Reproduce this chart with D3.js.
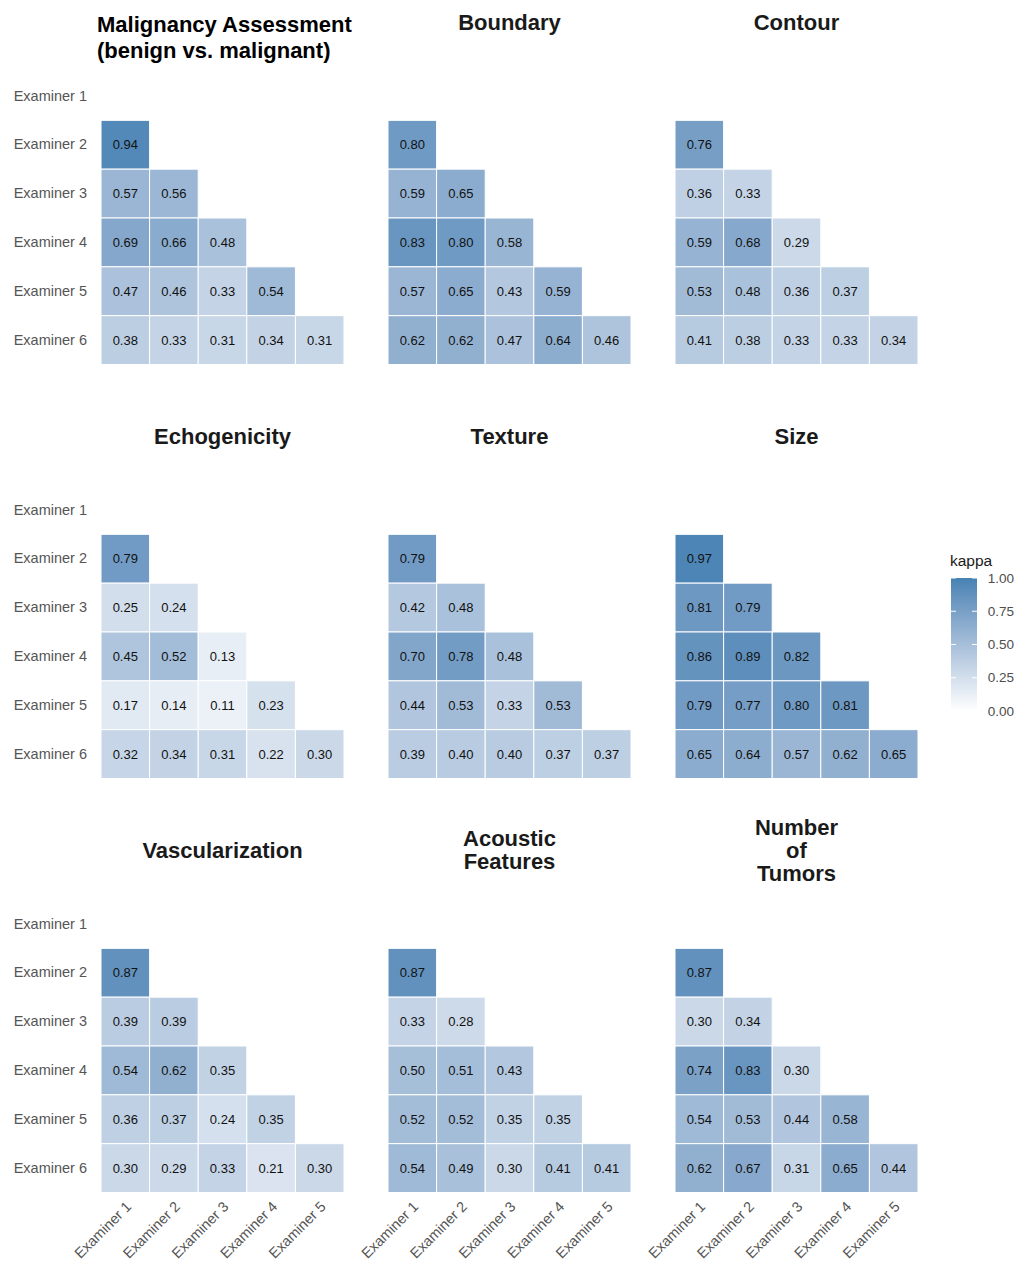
<!DOCTYPE html>
<html>
<head>
<meta charset="utf-8">
<script src="https://cdn.jsdelivr.net/npm/d3@7"></script>
<style>
  html, body { margin: 0; padding: 0; background: #fff; }
  svg { display: block; font-family: "Liberation Sans", Arial, Helvetica, sans-serif; }
</style>
</head>
<body>
<svg id="chart" width="1017" height="1266"></svg>
<script>
// Pairwise Cohen's kappa between examiners, one lower-triangle matrix per feature.
const examiners = ["Examiner 1", "Examiner 2", "Examiner 3", "Examiner 4", "Examiner 5", "Examiner 6"];
const colExaminers = examiners.slice(0, 5);

const titles = [
  ["Malignancy Assessment", "(benign vs. malignant)"],
  ["Boundary"],
  ["Contour"],
  ["Echogenicity"],
  ["Texture"],
  ["Size"],
  ["Vascularization"],
  ["Acoustic", "Features"],
  ["Number", "of", "Tumors"]
];

// rows: Examiner 2..6; entries: against Examiner 1..(row-1)
const malignancy = [[0.94], [0.57, 0.56], [0.69, 0.66, 0.48], [0.47, 0.46, 0.33, 0.54], [0.38, 0.33, 0.31, 0.34, 0.31]];
const boundary   = [[0.80], [0.59, 0.65], [0.83, 0.80, 0.58], [0.57, 0.65, 0.43, 0.59], [0.62, 0.62, 0.47, 0.64, 0.46]];
const contour    = [[0.76], [0.36, 0.33], [0.59, 0.68, 0.29], [0.53, 0.48, 0.36, 0.37], [0.41, 0.38, 0.33, 0.33, 0.34]];
const echogenicity = [[0.79], [0.25, 0.24], [0.45, 0.52, 0.13], [0.17, 0.14, 0.11, 0.23], [0.32, 0.34, 0.31, 0.22, 0.30]];
const texture    = [[0.79], [0.42, 0.48], [0.70, 0.78, 0.48], [0.44, 0.53, 0.33, 0.53], [0.39, 0.40, 0.40, 0.37, 0.37]];
const size       = [[0.97], [0.81, 0.79], [0.86, 0.89, 0.82], [0.79, 0.77, 0.80, 0.81], [0.65, 0.64, 0.57, 0.62, 0.65]];
const vascularization = [[0.87], [0.39, 0.39], [0.54, 0.62, 0.35], [0.36, 0.37, 0.24, 0.35], [0.30, 0.29, 0.33, 0.21, 0.30]];
const acoustic   = [[0.87], [0.33, 0.28], [0.50, 0.51, 0.43], [0.52, 0.52, 0.35, 0.35], [0.54, 0.49, 0.30, 0.41, 0.41]];
const tumors     = [[0.87], [0.30, 0.34], [0.74, 0.83, 0.30], [0.54, 0.53, 0.44, 0.58], [0.62, 0.67, 0.31, 0.65, 0.44]];

const matrices = [malignancy, boundary, contour, echogenicity, texture, size, vascularization, acoustic, tumors];
const legendTicks = [0, 0.25, 0.5, 0.75, 1];

const svg = d3.select("#chart");
const color = d3.scaleSequential(d3.interpolateLab("#ffffff", "steelblue")).domain([0, 1]);

const colLeft = [101, 388, 675];
const rowTop = [71.5, 485.5, 899.5];
const panelW = 243, panelH = 293;
const axisFont = 14.5;

// title line centres per panel
const titleLayout = [
  { x: 97, anchor: "start", ys: [24, 50], fill: "#000" },
  { ys: [22] }, { ys: [22] },
  { ys: [436] }, { ys: [436] }, { ys: [436] },
  { ys: [850] }, { ys: [838, 861] }, { ys: [827, 850, 873] }
];

matrices.forEach((m, i) => {
  const r = Math.floor(i / 3), c = i % 3;
  const x0 = colLeft[c], y0 = rowTop[r];
  const x = d3.scaleBand().domain(colExaminers).range([x0, x0 + panelW]);
  const y = d3.scaleBand().domain(examiners).range([y0, y0 + panelH]);

  const cells = [];
  m.forEach((row, ri) => row.forEach((v, ci) => cells.push({ row: examiners[ri + 1], col: examiners[ci], v })));

  const g = svg.append("g");
  g.selectAll("rect").data(cells).join("rect")
    .attr("x", d => x(d.col)).attr("y", d => y(d.row))
    .attr("width", x.bandwidth()).attr("height", y.bandwidth())
    .attr("fill", d => color(d.v))
    .attr("stroke", "#fff").attr("stroke-width", 1);
  g.selectAll("text.val").data(cells).join("text").attr("class", "val")
    .attr("x", d => x(d.col) + x.bandwidth() / 2)
    .attr("y", d => y(d.row) + y.bandwidth() / 2)
    .attr("text-anchor", "middle").attr("dy", "0.35em")
    .attr("font-size", 13).attr("fill", "#111")
    .text(d => d.v.toFixed(2));

  // y axis labels on the left column
  if (c === 0) {
    const ya = svg.append("g").attr("transform", `translate(${x0 - 9},0)`)
      .call(d3.axisLeft(y).tickSize(0).tickPadding(5));
    ya.select(".domain").remove();
    ya.selectAll("text").attr("font-size", axisFont).attr("fill", "#555")
      .attr("font-family", "Liberation Sans, Arial, sans-serif");
  }
  // rotated x axis labels on the bottom row
  if (r === 2) {
    const xa = svg.append("g").attr("transform", `translate(0,${y0 + panelH})`)
      .call(d3.axisBottom(x).tickSize(0).tickPadding(0));
    xa.select(".domain").remove();
    xa.selectAll("text")
      .attr("font-size", axisFont).attr("fill", "#555")
      .attr("font-family", "Liberation Sans, Arial, sans-serif")
      .attr("text-anchor", "end").attr("dy", 0).attr("y", 0)
      .attr("transform", "translate(7,15) rotate(-45)");
  }

  // panel title
  const t = titleLayout[i];
  const tx = t.x !== undefined ? t.x : x0 + panelW / 2;
  t.ys.forEach((ty, li) => {
    svg.append("text")
      .attr("x", tx).attr("y", ty).attr("dy", "0.35em")
      .attr("text-anchor", t.anchor || "middle")
      .attr("font-size", 22).attr("font-weight", "bold")
      .attr("fill", t.fill || "#1a1a1a")
      .text(titles[i][li]);
  });
});

// colour bar legend
const lx = 951, lw = 26, ltop = 578, lbot = 711;
const ls = d3.scaleLinear().domain([0, 1]).range([lbot, ltop]);
const defs = svg.append("defs");
const grad = defs.append("linearGradient").attr("id", "kgrad")
  .attr("x1", 0).attr("y1", 1).attr("x2", 0).attr("y2", 0);
d3.range(0, 1.0001, 0.1).forEach(s => grad.append("stop").attr("offset", s).attr("stop-color", color(s)));
svg.append("rect").attr("x", lx).attr("y", ltop).attr("width", lw).attr("height", lbot - ltop).attr("fill", "url(#kgrad)");
svg.append("text").attr("x", lx - 1).attr("y", 561).attr("dy", "0.35em")
  .attr("font-size", 15.5).attr("fill", "#1a1a1a").text("kappa");
const lg = svg.append("g");
legendTicks.forEach(tk => {
  const ty = ls(tk);
  lg.append("line").attr("x1", lx).attr("x2", lx + 5).attr("y1", ty).attr("y2", ty).attr("stroke", "#fff").attr("stroke-width", 1);
  lg.append("line").attr("x1", lx + lw - 5).attr("x2", lx + lw).attr("y1", ty).attr("y2", ty).attr("stroke", "#fff").attr("stroke-width", 1);
  lg.append("text").attr("x", 1014).attr("y", ty).attr("dy", "0.35em")
    .attr("text-anchor", "end").attr("font-size", 13.5).attr("fill", "#4d4d4d")
    .text(d3.format(".2f")(tk));
});
</script>
</body>
</html>
